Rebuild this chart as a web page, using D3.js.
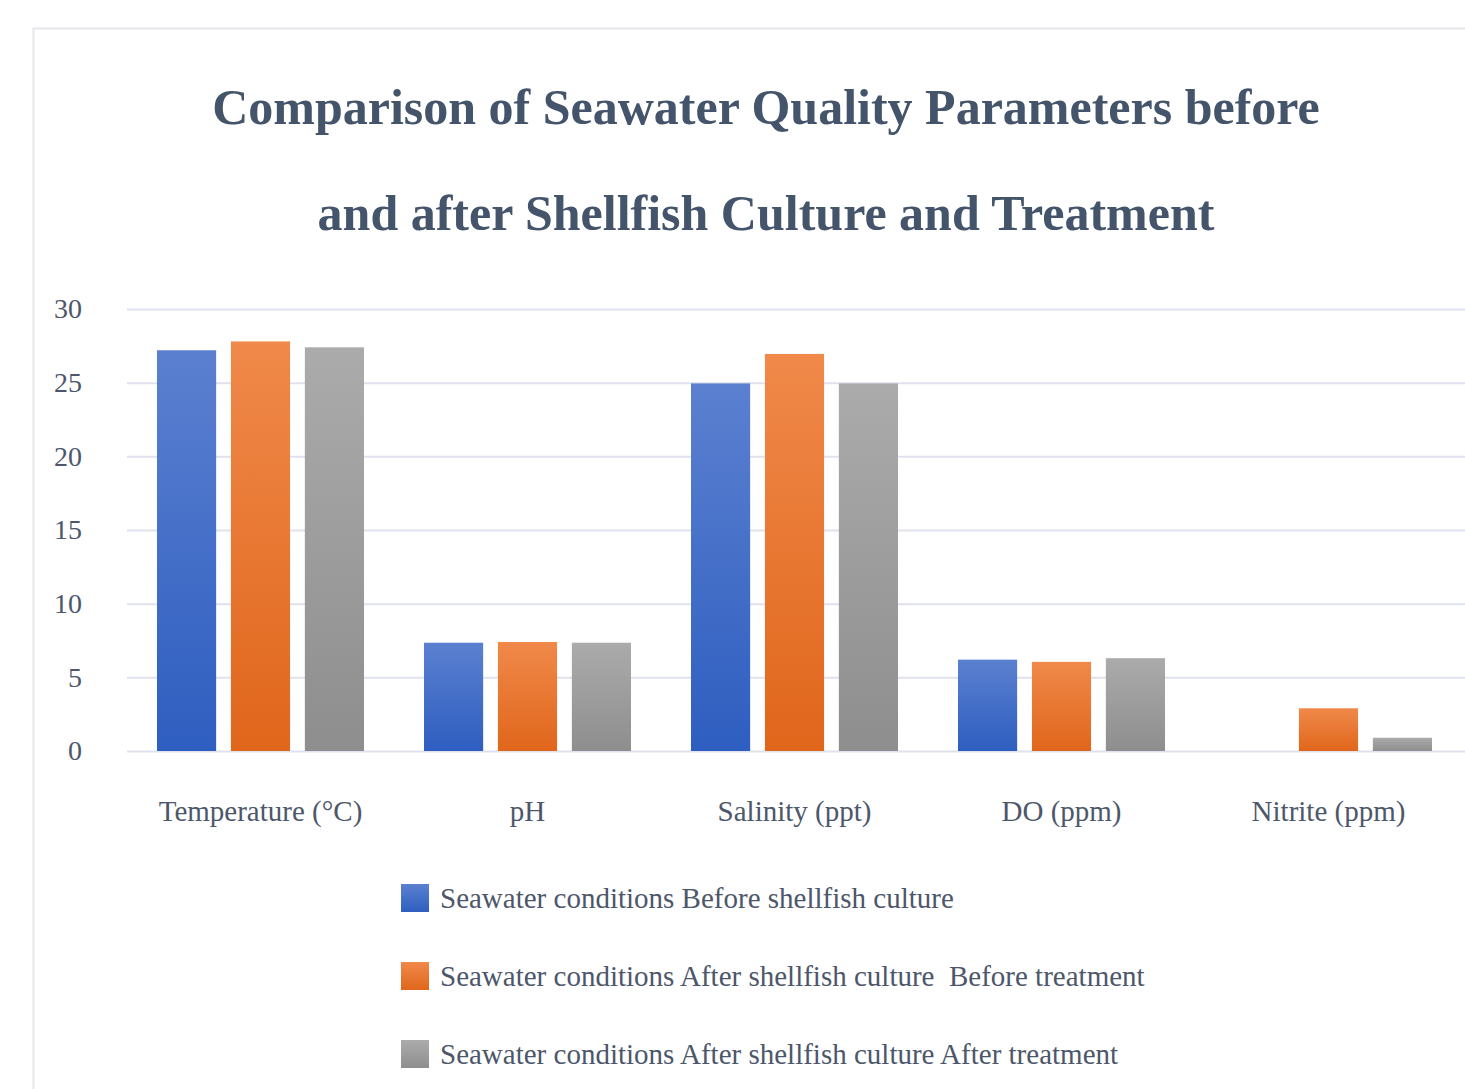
<!DOCTYPE html>
<html>
<head>
<meta charset="utf-8">
<script src="https://cdn.jsdelivr.net/npm/d3@7"></script>
<style>
  body { margin: 0; background: #fff; }
  text { font-family: "Liberation Serif", "Times New Roman", serif; }
</style>
</head>
<body>
<div id="chart"></div>
<script>
// data
const categories = ['Temperature (°C)', 'pH', 'Salinity (ppt)', 'DO (ppm)', 'Nitrite (ppm)']
const seriesNames = [
  'Seawater conditions Before shellfish culture',
  'Seawater conditions After shellfish culture  Before treatment',
  'Seawater conditions After shellfish culture After treatment'
]
const beforeCulture = [27.2, 7.35, 24.95, 6.2, 0]
const afterCultureBefore = [27.8, 7.4, 26.95, 6.05, 2.9]
const afterCultureAfter = [27.4, 7.35, 24.95, 6.3, 0.9]
const yTicks = [0, 5, 10, 15, 20, 25, 30]
const titleLines = ['Comparison of Seawater Quality Parameters before', 'and after Shellfish Culture and Treatment']

const W = 1465, H = 1089
const textColor = '#4d576b'
const svg = d3.select('#chart').append('svg').attr('width', W).attr('height', H)

// gradients for the bars (lighter top, darker bottom)
const grads = [['#5b80d0', '#2e5ec0'], ['#f0894a', '#e0661b'], ['#ababab', '#8e8e8e']]
const defs = svg.append('defs')
grads.forEach((g, i) => {
  const lg = defs.append('linearGradient').attr('id', 'g' + i)
    .attr('x1', 0).attr('y1', 0).attr('x2', 0).attr('y2', 1)
  lg.append('stop').attr('offset', '0%').attr('stop-color', g[0])
  lg.append('stop').attr('offset', '100%').attr('stop-color', g[1])
})

// frame
svg.append('path').attr('d', 'M33.5,' + H + ' V28.5 H' + W)
  .attr('fill', 'none').attr('stroke', '#e6e6ec').attr('stroke-width', 2)

// title
svg.append('g').selectAll('text').data(titleLines).enter().append('text')
  .attr('x', 766).attr('y', (d, i) => 124 + i * 106)
  .attr('text-anchor', 'middle')
  .attr('font-size', 50).attr('font-weight', 'bold').attr('fill', '#44546a')
  .text(d => d)

const y = d3.scaleLinear().domain([0, 30]).range([751, 309])
const x0 = d3.scaleBand().domain(categories).range([127, 1462])
const x1 = d3.scaleBand().domain([0, 1, 2]).range([30, x0.bandwidth() - 30]).paddingInner(0.2)

// gridlines
svg.append('g').selectAll('line').data(yTicks).enter().append('line')
  .attr('x1', 127).attr('x2', W).attr('y1', d => y(d) + 0.5).attr('y2', d => y(d) + 0.5)
  .attr('stroke', '#dfe1ee').attr('stroke-width', 2)

// y axis labels
const yAxis = svg.append('g').attr('transform', 'translate(82,0)')
  .call(d3.axisLeft(y).tickValues(yTicks).tickSize(0).tickPadding(0))
yAxis.select('.domain').remove()
yAxis.selectAll('text').attr('font-size', 28).attr('fill', textColor)
  .attr('font-family', '"Liberation Serif", serif')

// bars
const series = [beforeCulture, afterCultureBefore, afterCultureAfter]
const groups = svg.append('g').selectAll('g').data(categories).enter().append('g')
  .attr('transform', d => 'translate(' + x0(d) + ',0)')
groups.selectAll('rect').data((d, ci) => series.map((s, si) => ({ si, v: s[ci] })))
  .enter().append('rect')
  .attr('x', d => x1(d.si)).attr('width', x1.bandwidth())
  .attr('y', d => y(d.v)).attr('height', d => y(0) - y(d.v))
  .attr('fill', d => 'url(#g' + d.si + ')')

// category labels
const xAxis = svg.append('g').attr('transform', 'translate(0,751)')
  .call(d3.axisBottom(x0).tickSize(0).tickPadding(0))
xAxis.select('.domain').remove()
xAxis.selectAll('text').attr('font-size', 29).attr('fill', textColor)
  .attr('dy', 0).attr('y', 70)
  .attr('font-family', '"Liberation Serif", serif')

// legend
const legend = svg.append('g').selectAll('g').data(seriesNames).enter().append('g')
  .attr('transform', (d, i) => 'translate(401,' + (898 + i * 78) + ')')
legend.append('rect').attr('x', 0).attr('y', -14).attr('width', 28).attr('height', 28)
  .attr('fill', (d, i) => 'url(#g' + i + ')')
legend.append('text').attr('x', 39).attr('y', 10)
  .attr('font-size', 29).attr('fill', textColor)
  .attr('xml:space', 'preserve').style('white-space', 'pre')
  .text(d => d)
</script>
</body>
</html>
